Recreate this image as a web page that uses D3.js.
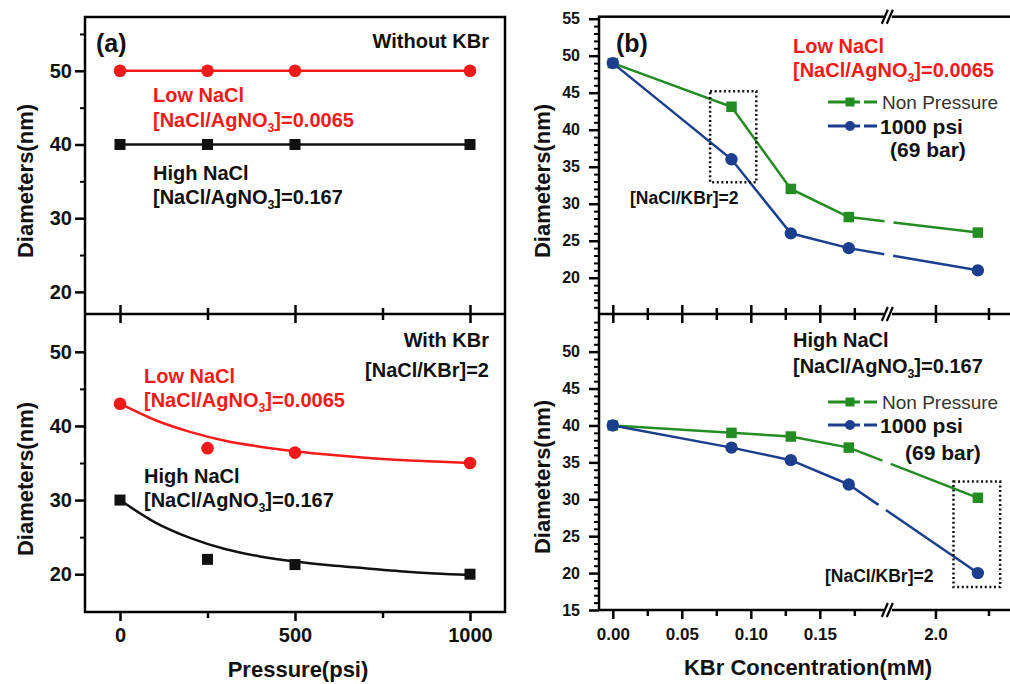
<!DOCTYPE html>
<html>
<head>
<meta charset="utf-8">
<script src="https://cdn.jsdelivr.net/npm/d3@7"></script>
<style>
body { margin: 0; background: #fff; }
svg { display: block; }
</style>
</head>
<body>
<svg id="chart" width="1010" height="684"></svg>
<script>
// ---- data ----
// (a) pressure series
var pressure = [0, 250, 500, 1000];
var lowNoKBr = [50, 50, 50, 50];
var highNoKBr = [40, 40, 40, 40];
var lowKBr = [43, 37, 36.4, 35];
var highKBr = [30, 22, 21.3, 20];
// fitted curves (a, lower panel)
var fitPressure = [0, 100, 200, 300, 400, 500, 600, 700, 800, 900, 1000];
var lowFit = [43.0, 40.8, 39.2, 38.0, 37.2, 36.6, 36.1, 35.7, 35.4, 35.2, 35.0];
var highFit = [30.0, 27.0, 24.9, 23.4, 22.4, 21.7, 21.2, 20.8, 20.4, 20.1, 19.9];

// (b) KBr concentration series
var kbr = [0, 0.086, 0.129, 0.171, 2.2];
var lowNonP = [49, 43.1, 32, 28.2, 26.1];
var low1000 = [49, 36, 26, 24, 21];
var highNonP = [40, 39, 38.5, 37, 30.2];
var high1000 = [40, 37, 35.3, 32, 20];

// ticks
var pressureTicks = [0, 500, 1000];
var pressureMinor = [250, 750];
var diamTicksA = [20, 30, 40, 50];
var diamMinorA = [25, 35, 45, 55];
var kbrTicks1 = [0, 0.05, 0.10, 0.15];
var kbrMinor1 = [0.025, 0.075, 0.125, 0.175];
var kbrTicks2 = [2.0];
var kbrMinor2 = [2.25];
var diamTicksTopB = [20, 25, 30, 35, 40, 45, 50, 55];
var diamTicksBotB = [15, 20, 25, 30, 35, 40, 45, 50];

var font = '"Liberation Sans", Arial, sans-serif';
var RED = '#f31a1a', GREEN = '#238c23', BLUE = '#1b3f8e';

var svg = d3.select('#chart').attr('font-family', font);

// ---- scales ----
var xP = d3.scaleLinear().domain([-100, 1100]).range([85, 505]);
var yA1 = d3.scaleLinear().domain([17, 57.3]).range([314, 17]);
var yA2 = d3.scaleLinear().domain([14.9, 55.1]).range([612, 314]);

var xK1 = d3.scaleLinear().domain([-0.01, 0.2]).range([599, 888.8]);
var xK2 = d3.scaleLinear().domain([1.78, 2.36]).range([888.8, 1011.8]);
function xK(v) { return v < 1 ? xK1(v) : xK2(v); }
var yB1 = d3.scaleLinear().domain([15.1, 55.27]).range([314, 16.7]);
var yB2 = d3.scaleLinear().domain([15, 55.1]).range([610, 314]);

// ---- frames ----
svg.append('rect').attr('x', 85).attr('y', 17).attr('width', 420).attr('height', 595)
    .attr('fill', 'none').attr('stroke', '#000').attr('stroke-width', 2.5);
svg.append('line').attr('x1', 85).attr('x2', 505).attr('y1', 314).attr('y2', 314)
    .attr('stroke', '#000').attr('stroke-width', 2.5);
svg.append('rect').attr('x', 599).attr('y', 16.7).attr('width', 420).attr('height', 593.3)
    .attr('fill', 'none').attr('stroke', '#000').attr('stroke-width', 2.5);
svg.append('line').attr('x1', 599).attr('x2', 1012).attr('y1', 314).attr('y2', 314)
    .attr('stroke', '#000').attr('stroke-width', 2.5);

// ---- axes helpers ----
function styleAxis(g, fs) {
    g.select('.domain').remove();
    g.attr('font-family', font).attr('font-size', fs).attr('font-weight', 'bold');
    g.selectAll('line').attr('stroke', '#000').attr('stroke-width', 2.5);
    g.selectAll('text').attr('fill', '#111');
}

function yAxis(scale, x, major, minor, fs, pad, minorSize) {
    var g = svg.append('g').attr('transform', 'translate(' + x + ',0)')
        .call(d3.axisLeft(scale).tickValues(major).tickSize(10).tickPadding(pad).tickFormat(d3.format('d')));
    styleAxis(g, fs);
    var m = svg.append('g').attr('transform', 'translate(' + x + ',0)')
        .call(d3.axisLeft(scale).tickValues(minor).tickSize(minorSize).tickFormat(''));
    styleAxis(m, fs);
    m.selectAll('line').attr('stroke-width', 2);
}

function xAxis(scale, y, major, minor, fs, pad, fmt, both) {
    var g = svg.append('g').attr('transform', 'translate(0,' + y + ')')
        .call(d3.axisBottom(scale).tickValues(major).tickSize(9).tickPadding(pad).tickFormat(fmt));
    styleAxis(g, fs);
    var m = svg.append('g').attr('transform', 'translate(0,' + y + ')')
        .call(d3.axisBottom(scale).tickValues(minor).tickSize(6).tickFormat(''));
    styleAxis(m, fs);
    if (both) {
        g.selectAll('line').attr('y1', -9);
        m.selectAll('line').attr('y1', -6);
    }
}

// (a) axes
yAxis(yA1, 85, diamTicksA, diamMinorA, 20, 3, 5);
yAxis(yA2, 85, diamTicksA, [25, 35, 45], 20, 3, 5);
xAxis(xP, 314, pressureTicks, pressureMinor, 20, 7, function () { return ''; }, true);
xAxis(xP, 612, pressureTicks, pressureMinor, 20, 7, d3.format('d'), false);

// (b) axes
var minorTop = d3.range(16, 56).filter(function (d) { return d % 5 !== 0; });
var minorBot = d3.range(16, 55).filter(function (d) { return d % 5 !== 0; });
yAxis(yB1, 599, diamTicksTopB, minorTop, 16, 9, 5);
yAxis(yB2, 599, diamTicksBotB, minorBot, 16, 9, 5);
xAxis(xK1, 314, kbrTicks1, kbrMinor1, 17, 9, function () { return ''; }, true);
xAxis(xK2, 314, kbrTicks2, kbrMinor2, 17, 9, function () { return ''; }, true);
xAxis(xK1, 610, kbrTicks1, kbrMinor1, 17, 9, d3.format('.2f'), false);
xAxis(xK2, 610, kbrTicks2, kbrMinor2, 17, 9, d3.format('.1f'), false);

// axis breaks
[16.7, 314, 610].forEach(function (yy) {
    var bx = xK1(0.2);
    svg.append('rect').attr('x', bx - 5).attr('y', yy - 3).attr('width', 8).attr('height', 6).attr('fill', '#fff');
    [-4, 1].forEach(function (o) {
        svg.append('line').attr('x1', bx + o - 3).attr('y1', yy + 7).attr('x2', bx + o + 3).attr('y2', yy - 7)
            .attr('stroke', '#000').attr('stroke-width', 2.2);
    });
});

// ---- titles ----
function yTitle(x, y, txt) {
    svg.append('text').attr('transform', 'translate(' + x + ',' + y + ') rotate(-90)')
        .attr('text-anchor', 'middle').attr('font-size', 22).attr('font-weight', 'bold').attr('fill', '#111').text(txt);
}
yTitle(33, 181, 'Diameters(nm)');
yTitle(33, 479, 'Diameters(nm)');
yTitle(550, 181, 'Diameters(nm)');
yTitle(550, 477, 'Diameters(nm)');

svg.append('text').attr('x', 298).attr('y', 677).attr('text-anchor', 'middle')
    .attr('font-size', 22).attr('font-weight', 'bold').attr('fill', '#111').text('Pressure(psi)');
svg.append('text').attr('x', 808).attr('y', 675).attr('text-anchor', 'middle')
    .attr('font-size', 22).attr('font-weight', 'bold').attr('fill', '#111').text('KBr Concentration(mM)');

// ---- series ----
function markersCircle(xs, ys, xf, yf, col, r) {
    svg.append('g').selectAll('circle').data(xs).enter().append('circle')
        .attr('cx', function (d) { return xf(d); })
        .attr('cy', function (d, i) { return yf(ys[i]); })
        .attr('r', r).attr('fill', col);
}
function markersSquare(xs, ys, xf, yf, col, s) {
    svg.append('g').selectAll('rect').data(xs).enter().append('rect')
        .attr('x', function (d) { return xf(d) - s / 2; })
        .attr('y', function (d, i) { return yf(ys[i]) - s / 2; })
        .attr('width', s).attr('height', s).attr('fill', col);
}
function pathOf(xs, ys, xf, yf, curve) {
    var pts = xs.map(function (d, i) { return [xf(d), yf(ys[i])]; });
    var ln = d3.line();
    if (curve) ln.curve(curve);
    return ln(pts);
}

// (a) top
svg.append('path').attr('d', pathOf(pressure, lowNoKBr, xP, yA1)).attr('fill', 'none').attr('stroke', RED).attr('stroke-width', 2.5);
svg.append('path').attr('d', pathOf(pressure, highNoKBr, xP, yA1)).attr('fill', 'none').attr('stroke', '#111').attr('stroke-width', 2.5);
markersCircle(pressure, lowNoKBr, xP, yA1, RED, 6.3);
markersSquare(pressure, highNoKBr, xP, yA1, '#111', 11);

// (a) bottom
svg.append('path').attr('d', pathOf(fitPressure, lowFit, xP, yA2, d3.curveMonotoneX)).attr('fill', 'none').attr('stroke', RED).attr('stroke-width', 2.5);
svg.append('path').attr('d', pathOf(fitPressure, highFit, xP, yA2, d3.curveMonotoneX)).attr('fill', 'none').attr('stroke', '#111').attr('stroke-width', 2.5);
markersCircle(pressure, lowKBr, xP, yA2, RED, 6.3);
markersSquare(pressure, highKBr, xP, yA2, '#111', 11);

// (b) series: solid up to the break, long dash across it
function kbrSeries(vals, yf, col, isSquare) {
    var n = kbr.length;
    svg.append('path').attr('d', pathOf(kbr.slice(0, n - 1), vals.slice(0, n - 1), xK, yf))
        .attr('fill', 'none').attr('stroke', col).attr('stroke-width', 2.5);
    svg.append('path').attr('d', pathOf(kbr.slice(n - 2), vals.slice(n - 2), xK, yf))
        .attr('fill', 'none').attr('stroke', col).attr('stroke-width', 2.5).attr('stroke-dasharray', '36,9,300');
    if (isSquare) markersSquare(kbr, vals, xK, yf, col, 10.5);
    else markersCircle(kbr, vals, xK, yf, col, 6.2);
}
kbrSeries(lowNonP, yB1, GREEN, true);
kbrSeries(low1000, yB1, BLUE, false);
kbrSeries(highNonP, yB2, GREEN, true);
kbrSeries(high1000, yB2, BLUE, false);

// dotted boxes
function box(x0, x1, y0, y1, yf) {
    svg.append('rect').attr('x', xK(x0)).attr('y', yf(y1))
        .attr('width', xK(x1) - xK(x0)).attr('height', yf(y0) - yf(y1))
        .attr('fill', 'none').attr('stroke', '#111').attr('stroke-width', 2.5).attr('stroke-dasharray', '2,2.6');
}
box(0.0705, 0.104, 32.9, 45.2, yB1);
box(2.085, 2.305, 18.1, 32.4, yB2);

// ---- text annotations ----
function txt(x, y, s, fs, col, weight, anchor) {
    return svg.append('text').attr('x', x).attr('y', y).attr('font-size', fs)
        .attr('font-weight', weight || 'bold').attr('fill', col || '#111')
        .attr('text-anchor', anchor || 'start').text(s);
}
function ratio(x, y, tail, fs, col) {
    var t = svg.append('text').attr('x', x).attr('y', y).attr('font-size', fs)
        .attr('font-weight', 'bold').attr('fill', col);
    t.append('tspan').text('[NaCl/AgNO');
    t.append('tspan').attr('font-size', fs * 0.62).attr('dy', fs * 0.25).text('3');
    t.append('tspan').attr('dy', -fs * 0.25).text(']=' + tail);
}

// (a)
txt(96, 52, '(a)', 25);
txt(489, 48, 'Without KBr', 20, '#111', 'bold', 'end');
txt(153, 102, 'Low NaCl', 20, RED);
ratio(153, 127, '0.0065', 20, RED);
txt(153, 180, 'High NaCl', 20);
ratio(153, 204, '0.167', 20, '#111');

txt(489, 347, 'With KBr', 20, '#111', 'bold', 'end');
txt(489, 377, '[NaCl/KBr]=2', 20, '#111', 'bold', 'end');
txt(144, 383, 'Low NaCl', 20, RED);
ratio(144, 407, '0.0065', 20, RED);
txt(144, 483, 'High NaCl', 20);
ratio(144, 507, '0.167', 20, '#111');

// (b)
txt(616, 52, '(b)', 25);
txt(793, 53, 'Low NaCl', 20, RED);
ratio(793, 77, '0.0065', 20, RED);
txt(630, 204, '[NaCl/KBr]=2', 17.5);

txt(793, 347, 'High NaCl', 20);
ratio(793, 373, '0.167', 20, '#111');
txt(825, 582, '[NaCl/KBr]=2', 17.5);

// legends
function legend(y0, y1, y2) {
    var lx0 = 828, lx1 = 877, mx = 850;
    svg.append('line').attr('x1', lx0).attr('x2', lx1).attr('y1', y0).attr('y2', y0)
        .attr('stroke', GREEN).attr('stroke-width', 3).attr('stroke-dasharray', '32,4,30');
    svg.append('rect').attr('x', mx - 4.5).attr('y', y0 - 4.5).attr('width', 9).attr('height', 9).attr('fill', GREEN);
    svg.append('line').attr('x1', lx0).attr('x2', lx1).attr('y1', y1).attr('y2', y1)
        .attr('stroke', BLUE).attr('stroke-width', 3).attr('stroke-dasharray', '32,4,30');
    svg.append('circle').attr('cx', mx).attr('cy', y1).attr('r', 5).attr('fill', BLUE);
    txt(882, y0 + 6.5, 'Non Pressure', 19, '#333', 'normal');
    txt(880, y1 + 7.5, '1000 psi', 21);
    txt(y2[0], y2[1], '(69 bar)', 21);
}
legend(102, 126, [890, 157]);
legend(402, 425, [905, 460]);
</script>
</body>
</html>
